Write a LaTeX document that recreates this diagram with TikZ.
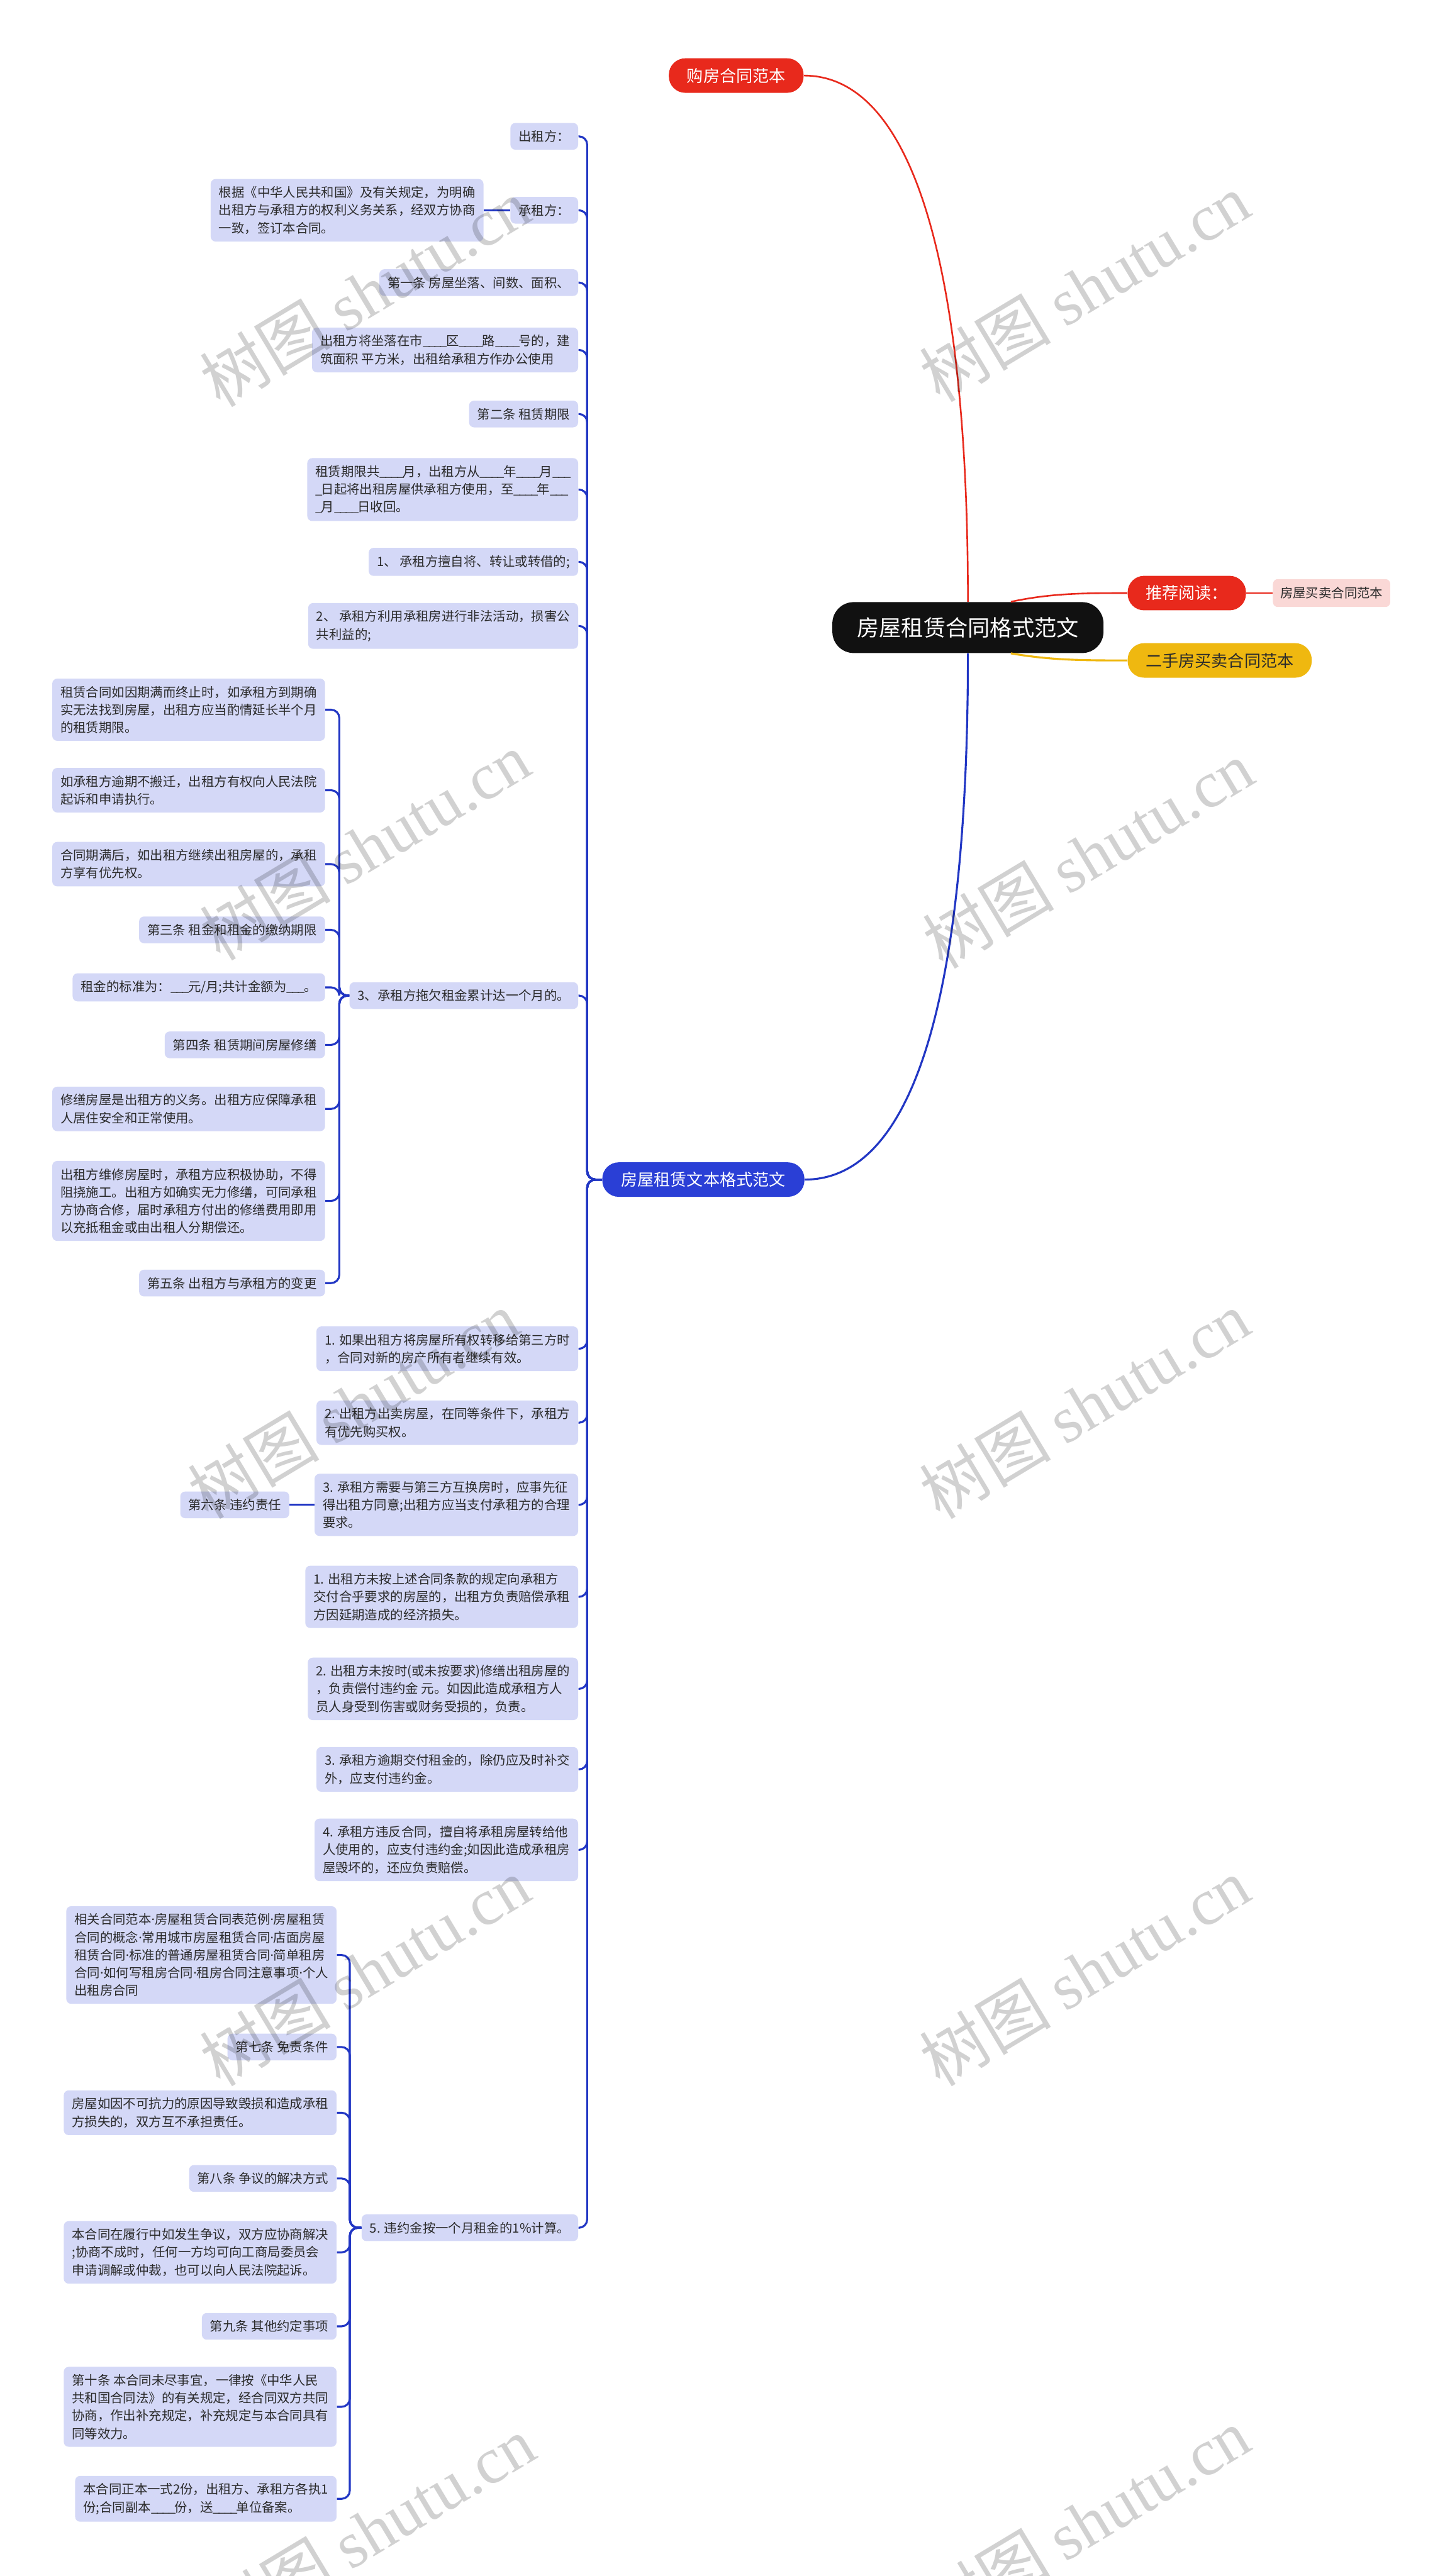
\documentclass[tikz,border=0pt]{standalone}
\usepackage{fontspec}
\setmainfont{Noto Sans CJK SC}
\newfontfamily\wmfont{Liberation Serif}
\newfontfamily\dotfont{Noto Sans}
\usetikzlibrary{calc,positioning}

\definecolor{rootbk}{HTML}{111111}
\definecolor{redx}{HTML}{E8291C}
\definecolor{yelx}{HTML}{EFB810}
\definecolor{blux}{HTML}{2A3FD6}
\definecolor{lnblu}{HTML}{2136C4}
\definecolor{leafx}{HTML}{D4D8F7}
\definecolor{pinkx}{HTML}{FAD8D6}
\definecolor{txtx}{HTML}{2B2B2B}

\newcommand{\us}{\_\kern-0.8pt}
\newcommand{\md}{{\dotfont ·}}

\begin{document}
\begin{tikzpicture}[
            x=1pt,y=-1pt,
            leaf/.style={fill=leafx,text=txtx,rounded corners=3pt,inner xsep=5pt,inner ysep=4.5pt,
                align=left,font=\fontsize{7.8}{10.8}\selectfont},
            pill/.style={rounded corners=10pt,minimum height=21pt,inner xsep=11pt,
                font=\fontsize{10}{12}\selectfont},
            bline/.style={draw=lnblu,line width=1.2pt,rounded corners=5pt},
            rline/.style={draw=redx,line width=1pt},
            yline/.style={draw=yelx,line width=1.2pt},
            wmark/.style={rotate=31,text=black,text opacity=0.18,font=\fontsize{40}{40}\selectfont}
        ]
            \fill[white] (0,0) rectangle (879,1568);
            \useasboundingbox (0,0) rectangle (879,1568);

            \node (root) [fill=rootbk,text=white,rounded corners=13pt,minimum width=165pt,minimum height=31pt,
                font=\fontsize{13.5}{15}\selectfont] at (589,382) {房屋租赁合同格式范文};
            \node (gf) [pill,fill=redx,text=white] at (448,46) {购房合同范本};
            \node (tj) [pill,fill=redx,text=white,anchor=west] at (686,361) {推荐阅读：};
            \node (mm) [right=16pt of tj,fill=pinkx,text=txtx,rounded corners=3pt,inner xsep=4.5pt,minimum height=17pt,
                font=\fontsize{7.8}{9}\selectfont] {房屋买卖合同范本};
            \node (es) [pill,fill=yelx,text=txtx,anchor=west] at (686,402) {二手房买卖合同范本};
            \node (blu) [pill,fill=blux,text=white,minimum width=123pt] at (428,718) {房屋租赁文本格式范文};

            \begin{scope}[every node/.append style={leaf,anchor=east}]
                \node (ct1)  at (352,83)   {出租方：};
                \node (ct2)  at (352,128)  {承租方：};
                \node (ct3)  at (352,172)  {第一条 房屋坐落、间数、面积、};
                \node (ct4)  at (352,213)  {出租方将坐落在市\us\us\us\us 区\us\us\us\us 路\us\us\us\us 号的，建\\筑面积 平方米，出租给承租方作办公使用};
                \node (ct5)  at (352,252)  {第二条 租赁期限};
                \node (ct6)  at (352,298)  {租赁期限共\us\us\us\us 月，出租方从\us\us\us\us 年\us\us\us\us 月\us\us\us\\\us 日起将出租房屋供承租方使用，至\us\us\us\us 年\us\us\us\\\us 月\us\us\us\us 日收回。};
                \node (ct7)  at (352,342)  {1、 承租方擅自将、转让或转借的;};
                \node (ct8)  at (352,381)  {2、 承租方利用承租房进行非法活动，损害公\\共利益的;};
                \node (ct9)  at (352,606)  {3、承租方拖欠租金累计达一个月的。};
                \node (ct10) at (352,821)  {1. 如果出租方将房屋所有权转移给第三方时\\，合同对新的房产所有者继续有效。};
                \node (ct11) at (352,866)  {2. 出租方出卖房屋，在同等条件下，承租方\\有优先购买权。};
                \node (ct12) at (352,916)  {3. 承租方需要与第三方互换房时，应事先征\\得出租方同意;出租方应当支付承租方的合理\\要求。};
                \node (ct13) at (352,972)  {1. 出租方未按上述合同条款的规定向承租方\\交付合乎要求的房屋的，出租方负责赔偿承租\\方因延期造成的经济损失。};
                \node (ct14) at (352,1028) {2. 出租方未按时(或未按要求)修缮出租房屋的\\，负责偿付违约金 元。如因此造成承租方人\\员人身受到伤害或财务受损的，负责。};
                \node (ct15) at (352,1077) {3. 承租方逾期交付租金的，除仍应及时补交\\外，应支付违约金。};
                \node (ct16) at (352,1126) {4. 承租方违反合同，擅自将承租房屋转给他\\人使用的，应支付违约金;如因此造成承租房\\屋毁坏的，还应负责赔偿。};
                \node (ct17) at (352,1356) {5. 违约金按一个月租金的1\%计算。};

                \node (sa1) at (198,432)  {租赁合同如因期满而终止时，如承租方到期确\\实无法找到房屋，出租方应当酌情延长半个月\\的租赁期限。};
                \node (sa2) at (198,481)  {如承租方逾期不搬迁，出租方有权向人民法院\\起诉和申请执行。};
                \node (sa3) at (198,526)  {合同期满后，如出租方继续出租房屋的，承租\\方享有优先权。};
                \node (sa4) at (198,566)  {第三条 租金和租金的缴纳期限};
                \node (sa5) at (198,601)  {租金的标准为：\us\us\us 元/月;共计金额为\us\us\us 。};
                \node (sa6) at (198,636)  {第四条 租赁期间房屋修缮};
                \node (sa7) at (198,675)  {修缮房屋是出租方的义务。出租方应保障承租\\人居住安全和正常使用。};
                \node (sa8) at (198,731)  {出租方维修房屋时，承租方应积极协助，不得\\阻挠施工。出租方如确实无力修缮，可同承租\\方协商合修，届时承租方付出的修缮费用即用\\以充抵租金或由出租人分期偿还。};
                \node (sa9) at (198,781)  {第五条 出租方与承租方的变更};

                \node (sb1) at (205,1190) {相关合同范本\md 房屋租赁合同表范例\md 房屋租赁\\合同的概念\md 常用城市房屋租赁合同\md 店面房屋\\租赁合同\md 标准的普通房屋租赁合同\md 简单租房\\合同\md 如何写租房合同\md 租房合同注意事项\md 个人\\出租房合同};
                \node (sb2) at (205,1246) {第七条 免责条件};
                \node (sb3) at (205,1286) {房屋如因不可抗力的原因导致毁损和造成承租\\方损失的，双方互不承担责任。};
                \node (sb4) at (205,1326) {第八条 争议的解决方式};
                \node (sb5) at (205,1371) {本合同在履行中如发生争议，双方应协商解决\\;协商不成时，任何一方均可向工商局委员会\\申请调解或仲裁，也可以向人民法院起诉。};
                \node (sb6) at (205,1416) {第九条 其他约定事项};
                \node (sb7) at (205,1465) {第十条 本合同未尽事宜，一律按《中华人民\\共和国合同法》的有关规定，经合同双方共同\\协商，作出补充规定，补充规定与本合同具有\\同等效力。};
                \node (sb8) at (205,1521) {本合同正本一式2份，出租方、承租方各执1\\份;合同副本\us\us\us\us 份，送\us\us\us\us 单位备案。};
            \end{scope}
            \node (ct2a)  [leaf,left=16pt of ct2]  {根据《中华人民共和国》及有关规定，为明确\\出租方与承租方的权利义务关系，经双方协商\\一致，签订本合同。};
            \node (ct12a) [leaf,left=15pt of ct12] {第六条 违约责任};

            \draw [rline] (root.north) .. controls (589,160) and (555,46) .. (gf.east);
            \draw [rline] (root.31) .. controls (640,361) and (660,361) .. (tj.west);
            \draw [rline] (tj.east) -- (mm.west);
            \draw [yline] (root.-31) .. controls (640,402) and (660,402) .. (es.west);
            \draw [bline] (root.south) .. controls (589,610) and (555,718) .. (blu.east);

            \foreach \c in {ct1,ct2,ct3,ct4,ct5,ct6,ct7,ct8,ct9,ct10,ct11,ct12,ct13,ct14,ct15,ct16,ct17}
                \draw [bline] (blu.west) -- ++(-9,0) |- (\c.east);
            \foreach \c in {sa1,sa2,sa3,sa4,sa5,sa6,sa7,sa8,sa9}
                \draw [bline] (ct9.west) -- ++(-6,0) |- (\c.east);
            \foreach \c in {sb1,sb2,sb3,sb4,sb5,sb6,sb7,sb8}
                \draw [bline] (ct17.west) -- ++(-7,0) |- (\c.east);
            \draw [bline] (ct2.west) -- (ct2a.east);
            \draw [bline] (ct12.west) -- (ct12a.east);

            \foreach \n/\px/\py in {w1/222/178,w2/222/515,w3/215/855,w4/222/1200,w5/225/1540,
                                     w6/660/175,w7/662/520,w8/660/855,w9/660/1200,w10/660/1535}
                \node (\n) [wmark] at (\px,\py) {树图 {\wmfont shutu.cn}};
        \end{tikzpicture}
\end{document}
